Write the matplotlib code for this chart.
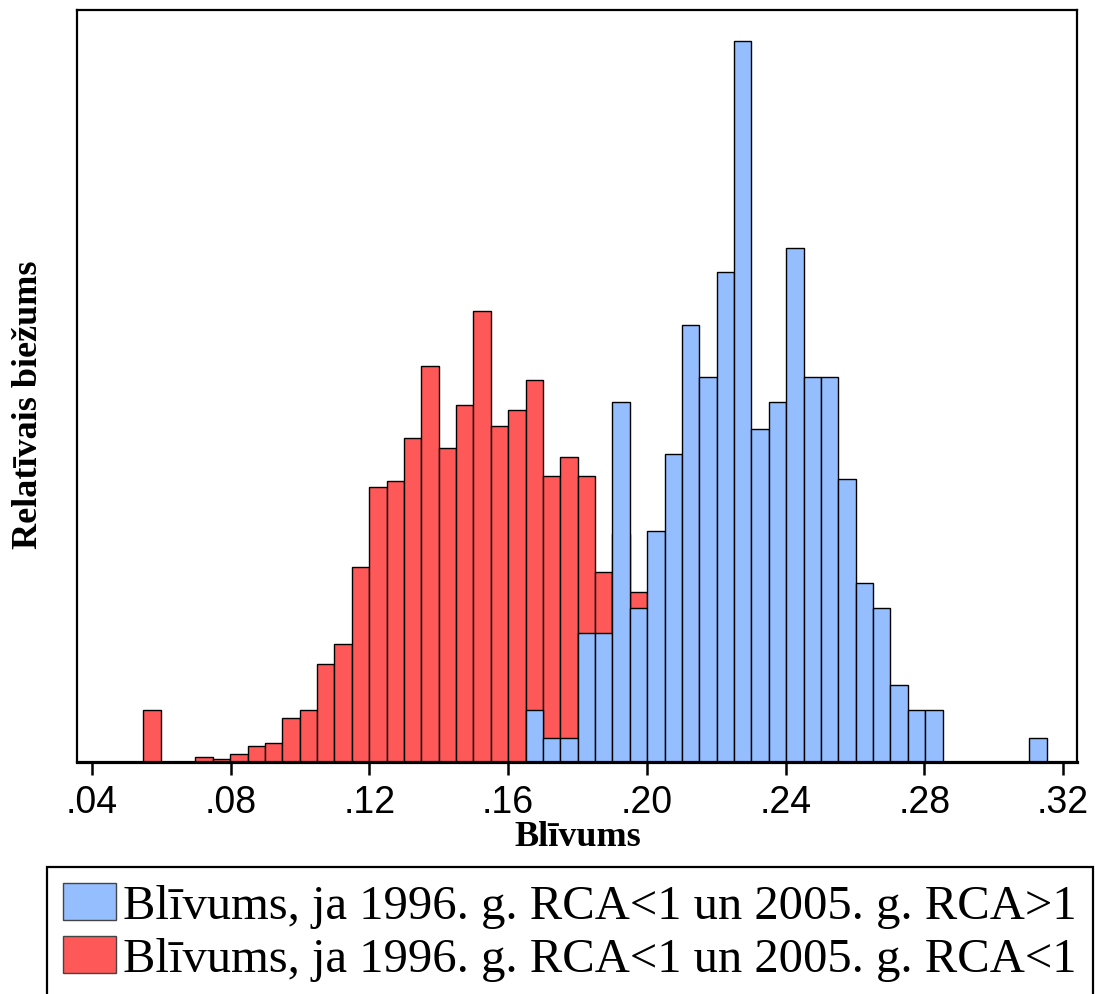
import numpy as np
import matplotlib
matplotlib.use("Agg")
import matplotlib.pyplot as plt
from matplotlib.patches import Patch

# --- dati (nolasīti no attēla) ---
bin_sakums = 0.0548      # pirmā stabiņa kreisā mala
bin_platums = 0.00501    # stabiņa platums

# relatīvais biežums (bez mērvienības, y asij nav iedaļu)
biezums_sarkans = [52, 0, 0, 5.5, 3, 8, 16.5, 19, 44, 52,
                   98, 118, 195.5, 275, 281, 324.5, 396, 314, 357.5, 451,
                   336, 352, 382.5, 286, 305, 286, 190, 228, 170, 0,
                   0, 0, 0, 0, 0, 0, 0, 0, 0, 0,
                   0, 0, 0, 0, 0, 0, 0, 0, 0, 0,
                   0, 0]
biezums_zils = [0, 0, 0, 0, 0, 0, 0, 0, 0, 0,
                0, 0, 0, 0, 0, 0, 0, 0, 0, 0,
                0, 0, 52, 24.5, 24.5, 129, 129, 360, 154, 231,
                308, 437, 385, 490, 721, 333, 360, 514, 385, 385,
                283, 179, 154, 77, 52, 52, 0, 0, 0, 0,
                0, 24.5]

x_iedalas = [0.04, 0.08, 0.12, 0.16, 0.20, 0.24, 0.28, 0.32]
x_iedalu_teksti = [".04", ".08", ".12", ".16", ".20", ".24", ".28", ".32"]

nosaukums_zils = "Blīvums, ja 1996. g. RCA<1 un 2005. g. RCA>1"
nosaukums_sarkans = "Blīvums, ja 1996. g. RCA<1 un 2005. g. RCA<1"

krasa_zila = "#94BEFF"
krasa_sarkana = "#FF5858"

# --- zīmējums ---
W, H = 1095, 995
fig = plt.figure(figsize=(W / 100, H / 100), dpi=100)
ax = fig.add_axes([77 / W, 1 - 763 / H, 1000 / W, 752 / H])

malas = bin_sakums + bin_platums * np.arange(len(biezums_sarkans))
# sarkanais apakšā, zilais pa virsu
ax.bar(malas, biezums_sarkans, width=bin_platums, align="edge",
       color=krasa_sarkana, edgecolor="black", linewidth=1.0)
ax.bar(malas, biezums_zils, width=bin_platums, align="edge",
       color=krasa_zila, edgecolor="black", linewidth=1.0)

ax.set_xlim(0.04 - 15 / 3468, 0.32 + 14 / 3468)
ax.set_ylim(0, 752)

ax.set_xticks(x_iedalas)
ax.set_xticklabels(x_iedalu_teksti, fontfamily="Liberation Sans", fontsize=27)
ax.set_yticks([])
ax.tick_params(axis="x", direction="out", length=9, width=1.8, pad=7)

for s in ["left", "top", "right"]:
    ax.spines[s].set_linewidth(1.6)
ax.spines["bottom"].set_linewidth(2.3)

fig.text(578 / W, 1 - 838 / H, "Blīvums", ha="center", va="center",
         fontfamily="Liberation Serif", fontweight="bold", fontsize=26)
fig.text(29 / W, 1 - 405 / H, "Relatīvais biežums", ha="center", va="center",
         rotation=90, fontfamily="Liberation Serif", fontweight="bold", fontsize=26)

rokturi = [Patch(facecolor=krasa_zila, edgecolor="#444444", linewidth=1),
           Patch(facecolor=krasa_sarkana, edgecolor="#444444", linewidth=1)]
leg = fig.legend(rokturi, [nosaukums_zils, nosaukums_sarkans],
                 loc="upper left", bbox_to_anchor=(47 / W, 1 - 868 / H),
                 prop={"family": "Liberation Serif", "size": 35},
                 frameon=True, fancybox=False, framealpha=1,
                 borderpad=0.32, handletextpad=0.15, labelspacing=0.15,
                 handlelength=1.1, handleheight=0.82, borderaxespad=0)
leg.get_frame().set_edgecolor("black")
leg.get_frame().set_linewidth(1.6)

fig.savefig("out.png", dpi=100)
